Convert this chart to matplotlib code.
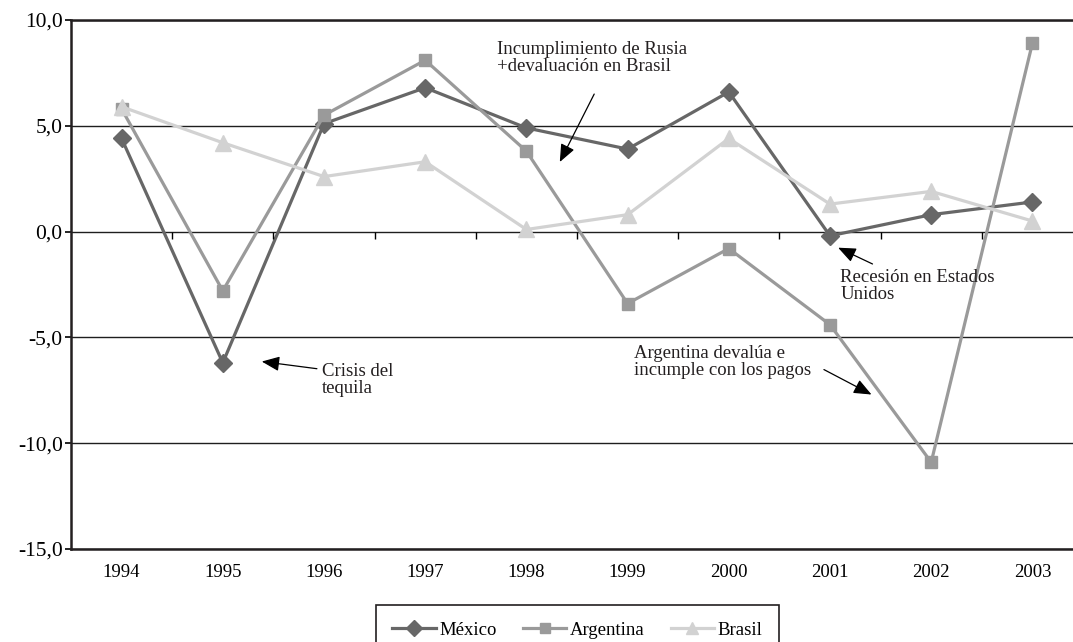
import matplotlib
matplotlib.use("Agg")
import matplotlib.pyplot as plt
from matplotlib.ticker import FuncFormatter, FixedLocator

# datos (crecimiento del PIB, %)
years = ['1994', '1995', '1996', '1997', '1998', '1999', '2000', '2001', '2002', '2003']
mexico = [4.4, -6.2, 5.1, 6.8, 4.9, 3.9, 6.6, -0.2, 0.8, 1.4]
argentina = [5.8, -2.8, 5.5, 8.1, 3.8, -3.4, -0.8, -4.4, -10.9, 8.9]
brasil = [5.9, 4.2, 2.6, 3.3, 0.1, 0.8, 4.4, 1.3, 1.9, 0.5]

plt.rcParams['font.family'] = ['Liberation Serif', 'DejaVu Serif']

fig = plt.figure(figsize=(10.73, 6.42), dpi=100)
ax = fig.add_axes([71 / 1073, 1 - 549 / 642, 1012 / 1073, 529 / 642])

x = list(range(len(years)))
ax.plot(x, mexico, color='#676767', lw=2.3, marker='D', ms=9, label='México')
ax.plot(x, argentina, color='#9a9a9a', lw=2.3, marker='s', ms=9, label='Argentina')
ax.plot(x, brasil, color='#d2d2d2', lw=2.3, marker='^', ms=11, label='Brasil')

ax.set_xlim(-0.5, len(years) - 0.5)
ax.set_ylim(-15, 10)
ax.set_yticks([-15, -10, -5, 0, 5, 10])
ax.yaxis.set_major_formatter(FuncFormatter(lambda v, p: f"{v:.1f}".replace('.', ',')))
ax.set_xticks(x)
ax.set_xticklabels(years)
ax.tick_params(axis='x', length=0, pad=11, labelsize=13.5)
ax.tick_params(axis='y', length=4, width=1.2, direction='out', pad=2, labelsize=15.5)

ax.yaxis.grid(True, color='#1e1e1e', lw=1.0)
ax.set_axisbelow(True)
for s in ['top', 'left', 'bottom']:
    ax.spines[s].set_color('#231f20')
    ax.spines[s].set_linewidth(1.8)
ax.spines['right'].set_visible(False)

# marcas de categoria sobre el eje en 0
ax2 = ax.twiny()
ax2.set_xlim(ax.get_xlim())
ax2.spines['bottom'].set_position(('data', 0))
for s in ['top', 'left', 'right', 'bottom']:
    ax2.spines[s].set_visible(False)
ax2.xaxis.set_ticks_position('bottom')
ax2.xaxis.set_major_locator(FixedLocator([i + 0.5 for i in range(len(years) - 1)]))
ax2.tick_params(axis='x', length=5, width=1.0, direction='out', labelbottom=False, labeltop=False)

# anotaciones
txt = dict(fontsize=13.5, linespacing=1.0, va='top', ha='left', color='#231f20')
ax.text(3.71, 9.0, 'Incumplimiento de Rusia\n+devaluación en Brasil', **txt)
ax.text(1.98, -6.2, 'Crisis del\ntequila', **txt)
ax.text(7.10, -1.75, 'Recesión en Estados\nUnidos', **txt)
ax.text(5.06, -5.35, 'Argentina devalúa e\nincumple con los pagos', **txt)

arr = dict(arrowstyle='-|>,head_length=0.6,head_width=0.25', color='black', lw=0.9,
           mutation_scale=18, shrinkA=0, shrinkB=0)
ax.annotate('', xy=(4.33, 3.29), xytext=(4.67, 6.5), arrowprops=arr)
ax.annotate('', xy=(1.385, -6.14), xytext=(1.93, -6.48), arrowprops=arr)
ax.annotate('', xy=(7.08, -0.76), xytext=(7.42, -1.53), arrowprops=arr)
ax.annotate('', xy=(7.41, -7.70), xytext=(6.94, -6.52), arrowprops=arr)

leg = ax.legend(loc='upper center', bbox_to_anchor=(577.5 / 1073, 1 - 605 / 642),
                bbox_transform=fig.transFigure, ncol=3, frameon=True, fancybox=False,
                edgecolor='#231f20', framealpha=1, fontsize=13.5, handlelength=2.3,
                handletextpad=0.2, columnspacing=1.4, borderpad=0.9, borderaxespad=0,
                markerscale=0.85)
leg.get_frame().set_linewidth(1.2)

fig.savefig('out.png', dpi=100)
